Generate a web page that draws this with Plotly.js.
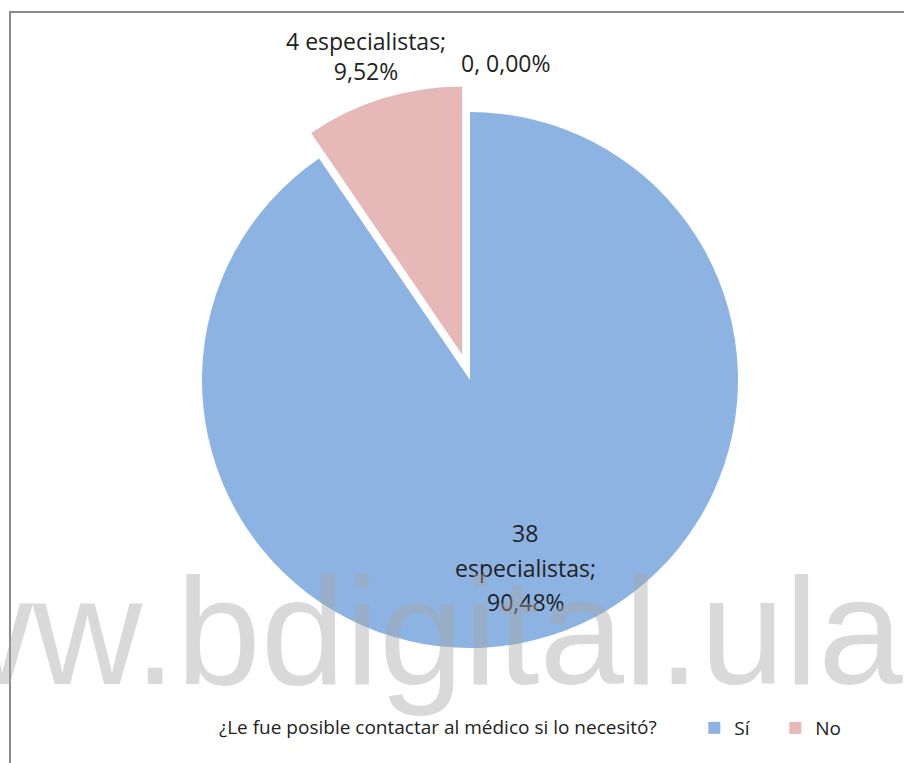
<!DOCTYPE html>
<html>
<head>
<meta charset="utf-8">
<script src="https://cdn.plot.ly/plotly-3.0.1.min.js"></script>
<style>
  html, body { margin: 0; padding: 0; background: #fff; }
  #chart { width: 904px; height: 763px; }
</style>
</head>
<body>
<div id="chart"></div>
<script>
// datos del gráfico
const categorias = ["Sí", "No"];
const especialistas = [38, 4];
const colores = ["#8DB3E2", "#E6B9B8"];
const tituloLeyenda = "¿Le fue posible contactar al médico si lo necesitó?";
const valorCero = 0;
const marcaAgua = "www.bdigital.ula.ve";

const W = 904, H = 763;
const fuente = "'Open Sans', sans-serif";
const colorTexto = "#222";

const total = especialistas.reduce((a, b) => a + b, 0);
const pct = v => (v / total * 100).toFixed(2).replace(".", ",") + "%";

const pie = {
    type: "pie",
    labels: categorias,
    values: especialistas,
    sort: false,
    direction: "clockwise",
    rotation: 0,
    pull: [0, 0.1],
    marker: { colors: colores, line: { width: 0 } },
    textinfo: "none",
    hoverinfo: "none",
    domain: { x: [175.2 / W, 764.8 / W], y: [1 - 674.8 / H, 1 - 85.2 / H] }
};

// etiquetas de datos (posición estilo Excel)
function etiqueta(texto, px, py) {
    return {
        xref: "paper", yref: "paper",
        x: px / W, y: 1 - py / H, xanchor: "center", yanchor: "middle",
        text: texto, showarrow: false,
        font: { family: fuente, size: 23, color: colorTexto }
    };
}

const lineasSi = [String(especialistas[0]), "especialistas;", pct(especialistas[0])];
const annotations = [
    etiqueta(lineasSi[0], 525, 533),
    etiqueta(lineasSi[1], 525, 568),
    etiqueta(lineasSi[2], 526, 602),
    etiqueta(especialistas[1] + " especialistas;<br>" + pct(especialistas[1]), 366, 56),
    etiqueta(valorCero + ", " + pct(valorCero), 506, 63),
    {
        xref: "paper", yref: "paper",
        x: -190 / W, y: 1 - 631 / H, xanchor: "left", yanchor: "middle",
        text: marcaAgua, showarrow: false,
        font: { family: "'Liberation Sans', Arial, sans-serif", size: 152, color: "rgba(165,165,165,0.42)" }
    }
];

const layout = {
    width: W,
    height: H,
    margin: { l: 0, r: 0, t: 0, b: 0 },
    paper_bgcolor: "#fff",
    showlegend: true,
    legend: {
        orientation: "h",
        x: 217 / W, xanchor: "left",
        y: 1 - 728 / H, yanchor: "middle",
        font: { family: fuente, size: 19, color: colorTexto },
        title: {
            text: tituloLeyenda + "\u00a0\u00a0\u00a0\u00a0\u00a0\u00a0",
            side: "left",
            font: { family: fuente, size: 19, color: colorTexto }
        },
        entrywidth: 36,
        traceorder: "normal"
    },
    shapes: [{
        type: "rect", xref: "paper", yref: "paper",
        x0: 10 / W, x1: 1.05, y0: -0.05, y1: 1 - 12 / H,
        line: { color: "#8a8a8a", width: 2 }, fillcolor: "rgba(0,0,0,0)",
        layer: "below"
    }],
    annotations: annotations
};

Plotly.newPlot("chart", [pie], layout, { displayModeBar: false, staticPlot: true });
</script>
</body>
</html>
